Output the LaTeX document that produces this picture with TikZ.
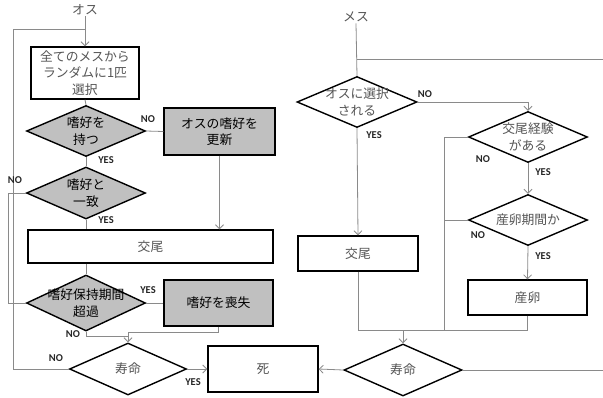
\documentclass[tikz,border=0pt]{standalone}
\usepackage{fontspec}
\setmainfont{Carlito}
\newfontfamily\jpfont{Noto Sans CJK JP}
\usetikzlibrary{shapes.geometric,arrows.meta}
\definecolor{boxgray}{HTML}{C0C0C0}
\definecolor{linegray}{HTML}{8A8A8A}
\definecolor{txtgray}{HTML}{555555}
\tikzset{
  jp/.style={font=\jpfont\fontsize{12.8}{16.5}\selectfont, align=center},
  wbox/.style={draw=black, line width=1.4pt, fill=white, inner sep=0pt, jp, text=txtgray},
  gbox/.style={wbox, fill=boxgray, text=black},
  wdia/.style={diamond, draw=black, line width=1.4pt, fill=white, inner sep=0pt},
  gdia/.style={wdia, fill=boxgray},
  wtxt/.style={jp, text=txtgray},
  gtxt/.style={jp, text=black},
  conn/.style={draw=linegray, line width=0.8pt},
  arr/.style={conn, -{Straight Barb[length=4pt,width=8pt]}},
  yn/.style={font=\bfseries\fontsize{10.5}{11}\selectfont, text=black!85, inner sep=0pt},
}
\begin{document}
\begin{tikzpicture}[x=1pt,y=-1pt]
\useasboundingbox (0,0) rectangle (603,397);
% ---------- left (male) column ----------
\node[wtxt, inner sep=1pt] (osu) at (85,10) {オス};
\node[wbox, minimum width=108pt, minimum height=52pt] (b1) at (85,73) {全てのメスから\\ランダムに1匹\\選択};
\node[gdia, minimum width=119pt, minimum height=51pt, label={[gtxt]center:嗜好を\\持つ}] (d1) at (86,131) {};
\node[gbox, minimum width=111pt, minimum height=47pt] (b2) at (219.5,131.5) {オスの嗜好を\\更新};
\node[gdia, minimum width=119pt, minimum height=52pt, label={[gtxt]center:嗜好と\\一致}] (d2) at (86,193) {};
\node[wbox, minimum width=245pt, minimum height=33pt] (b3) at (150.5,246.5) {交尾};
\node[gdia, minimum width=119pt, minimum height=56pt, label={[gtxt]center:嗜好保持期間\\超過}] (d3) at (86,303) {};
\node[gbox, minimum width=109pt, minimum height=46pt] (b4) at (218.5,303) {嗜好を喪失};
\node[wdia, minimum width=117pt, minimum height=52pt, label={[wtxt]center:寿命}] (d4) at (128,369) {};
\node[wbox, minimum width=110pt, minimum height=46pt] (death) at (263,369) {死};
% ---------- right (female) column ----------
\node[wtxt, inner sep=1pt] (mesu) at (356,17) {メス};
\node[wdia, minimum width=120pt, minimum height=51pt, label={[wtxt]center:オスに選択\\される}] (d5) at (357,102) {};
\node[wbox, minimum width=120pt, minimum height=35pt] (b5) at (358,253.5) {交尾};
\node[wdia, minimum width=119pt, minimum height=51pt, label={[wtxt]center:交尾経験\\がある}] (d6) at (528,137) {};
\node[wdia, minimum width=119pt, minimum height=51pt, label={[wtxt]center:産卵期間か}] (d7) at (528,220) {};
\node[wbox, minimum width=119pt, minimum height=35pt] (b6) at (527.5,297.5) {産卵};
\node[wdia, minimum width=118pt, minimum height=52pt, label={[wtxt]center:寿命}] (d8) at (403,370) {};
% ---------- helper coordinates ----------
\coordinate (loopL) at (13,29);
\coordinate (loopJ) at (85,29);
\coordinate (noL) at (8,193);
\coordinate (noJ3) at (128,336);
\coordinate (noJ4) at (128,332);
\coordinate (rightTop) at (603,59);
\coordinate (rightBot) at (603,370);
\coordinate (femJ) at (403,330);
\coordinate (femLeft) at (444,137);
% ---------- connectors left ----------
\draw[arr] (osu.south) -- (b1.north);
\draw[conn] (d4.west) -| (loopL) -- (loopJ);
\draw[conn] (b1.south) -- (d1.north);
\draw[conn] (d1.east) -- (b2.west);
\draw[arr] (b2.south) -- (b2.south |- b3.north);
\draw[conn] (d1.south) -- (d2.north);
\draw[conn] (d2.west) -- (noL) |- (d3.west);
\draw[conn] (d2.south) -- (d2.south |- b3.north);
\draw[conn] (d3.north |- b3.south) -- (d3.north);
\draw[conn] (d3.east) -- (b4.west);
\draw[conn] (d3.south) |- (noJ3);
\draw[conn] (b4.south) |- (noJ4);
\draw[arr] (noJ4) -- (d4.north);
\draw[arr] (d4.east) -- (death.west);
% ---------- connectors right ----------
\draw[conn] (mesu.south) -- (d5.north);
\draw[conn] (d5.north |- rightTop) -- (rightTop);
\draw[arr] (d5.east) -| (d6.north);
\draw[arr] (d5.south) -- (b5.north);
\draw[conn] (d6.west) -- (femLeft) -- (femLeft |- femJ);
\draw[arr] (d6.south) -- (d7.north);
\draw[conn] (d7.west) -- (d7.west -| femLeft);
\draw[arr] (d7.south) -- (b6.north);
\draw[conn] (b6.south) |- (femJ);
\draw[conn] (b5.south) |- (femJ);
\draw[arr] (femJ) -- (d8.north);
\draw[arr] (d8.west) -- (death.east);
\draw[conn] (d8.east) -- (rightBot);
% ---------- YES / NO labels ----------
\node[yn] (l1) at (148,119) {NO};
\node[yn] (l2) at (106,160) {YES};
\node[yn] (l3) at (15,180) {NO};
\node[yn] (l4) at (106,220) {YES};
\node[yn] (l5) at (148,290) {YES};
\node[yn] (l6) at (73,334) {NO};
\node[yn] (l7) at (56,358) {NO};
\node[yn] (l8) at (193,382) {YES};
\node[yn] (l9) at (425,94) {NO};
\node[yn] (l10) at (374,135) {YES};
\node[yn] (l11) at (483,159) {NO};
\node[yn] (l12) at (543,172) {YES};
\node[yn] (l13) at (478,235) {NO};
\node[yn] (l14) at (543,256) {YES};
\end{tikzpicture}
\end{document}
